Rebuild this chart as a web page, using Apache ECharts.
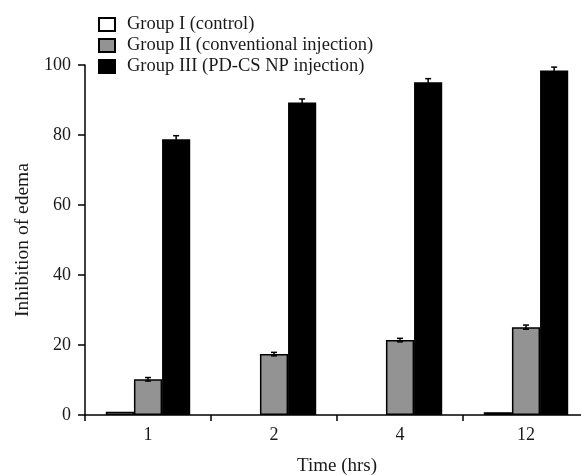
<!DOCTYPE html>
<html>
<head>
<meta charset="utf-8">
<script src="https://cdn.jsdelivr.net/npm/echarts@6/dist/echarts.min.js"></script>
<style>
  html, body { margin: 0; padding: 0; background: #fff; }
  #chart { width: 581px; height: 475px; }
</style>
</head>
<body>
<div id="chart"></div>
<script>
const times = ['1', '2', '4', '12']
const groupNames = ['Group I (control)', 'Group II (conventional injection)', 'Group III (PD-CS NP injection)']
const groupI = [0.9, 0, 0, 0.8]
const groupII = [10.2, 17.4, 21.4, 25.1]
const groupIII = [78.8, 89.3, 95.1, 98.4]
const errI = [0, 0, 0, 0]
const errII = [0.5, 0.5, 0.5, 0.6]
const errIII = [1.0, 1.0, 1.0, 1.0]

const font = 'Liberation Serif, Times New Roman, serif'
const ink = '#1a1a1a'
const catGap = 0.33

// zero-height bars are not drawn in the original, so leave them empty
const bars = (values) => values.map((v) => (v === 0 ? null : v))

function errorSeries(values, errs, slot) {
  return {
    type: 'custom',
    silent: true,
    z: 10,
    data: values.map((v, i) => [i, v, errs[i]]),
    renderItem: (params, api) => {
      const err = api.value(2)
      if (!err) return null
      const bandW = api.size([1, 0])[0]
      const barW = bandW * (1 - catGap) / 3
      const hi = api.coord([api.value(0), api.value(1) + err])
      const lo = api.coord([api.value(0), api.value(1) - err])
      const x = hi[0] + (slot - 1) * barW
      const cap = 3
      const style = { stroke: '#000', lineWidth: 1.5 }
      return {
        type: 'group',
        children: [
          { type: 'line', shape: { x1: x, y1: hi[1], x2: x, y2: lo[1] }, style },
          { type: 'line', shape: { x1: x - cap, y1: hi[1], x2: x + cap, y2: hi[1] }, style },
          { type: 'line', shape: { x1: x - cap, y1: lo[1], x2: x + cap, y2: lo[1] }, style },
        ],
      }
    },
  }
}

const chart = echarts.init(document.getElementById('chart'))
chart.setOption({
  animation: false,
  textStyle: { fontFamily: font, color: ink },
  legend: {
    orient: 'vertical',
    left: 98,
    top: 15,
    padding: 0,
    icon: 'rect',
    itemWidth: 16,
    itemHeight: 13,
    itemGap: 2,
    data: groupNames,
    textStyle: { fontFamily: font, fontSize: 18.5, color: ink, padding: [0, 0, 0, 7] },
  },
  grid: { left: 85, right: -8, top: 65, bottom: 60, outerBoundsMode: 'none' },
  xAxis: {
    type: 'category',
    data: times,
    name: 'Time (hrs)',
    nameLocation: 'middle',
    nameGap: 42,
    nameTextStyle: { fontFamily: font, fontSize: 19, color: ink },
    axisLine: { lineStyle: { color: '#000', width: 1.5 } },
    axisTick: { show: true, length: 6, lineStyle: { color: '#000', width: 1.5 } },
    axisLabel: { fontFamily: font, fontSize: 18, color: ink, margin: 11 },
  },
  yAxis: {
    type: 'value',
    min: 0,
    max: 100,
    interval: 20,
    name: 'Inhibition of edema',
    nameLocation: 'middle',
    nameGap: 52,
    nameTextStyle: { fontFamily: font, fontSize: 19.5, color: ink },
    axisLine: { show: true, lineStyle: { color: '#000', width: 1.5 } },
    axisTick: { show: true, length: 7, lineStyle: { color: '#000', width: 1.5 } },
    axisLabel: { fontFamily: font, fontSize: 18, color: ink, margin: 14 },
    splitLine: { show: false },
  },
  series: [
    {
      name: groupNames[0],
      type: 'bar',
      data: bars(groupI),
      barGap: '0%',
      barCategoryGap: '33%',
      itemStyle: { color: '#ffffff', borderColor: '#000', borderWidth: 1.5 },
    },
    {
      name: groupNames[1],
      type: 'bar',
      data: bars(groupII),
      barGap: '0%',
      barCategoryGap: '33%',
      itemStyle: { color: '#939393', borderColor: '#000', borderWidth: 1.5 },
    },
    {
      name: groupNames[2],
      type: 'bar',
      data: bars(groupIII),
      barGap: '0%',
      barCategoryGap: '33%',
      itemStyle: { color: '#000000', borderColor: '#000', borderWidth: 1.5 },
    },
    errorSeries(groupI, errI, 0),
    errorSeries(groupII, errII, 1),
    errorSeries(groupIII, errIII, 2),
  ],
})
</script>
</body>
</html>
